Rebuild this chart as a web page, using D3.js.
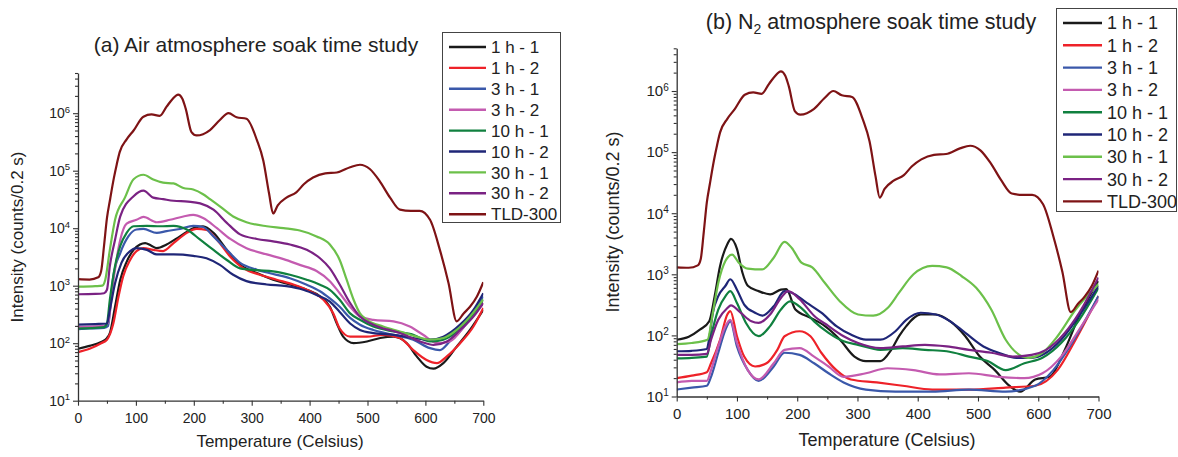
<!DOCTYPE html>
<html><head><meta charset="utf-8">
<script src="https://cdn.jsdelivr.net/npm/d3@7"></script>
<style>body{margin:0;background:#fff}svg{display:block;font-family:Arial,"Liberation Sans",sans-serif}</style>
</head><body><svg id="c" width="1178" height="457"></svg>
<script>
// ---------- DATA (temperature °C, intensity counts/0.2 s) ----------
const seriesNames = ["1 h - 1","1 h - 2","3 h - 1","3 h - 2","10 h - 1","10 h - 2","30 h - 1","30 h - 2","TLD-300"];
const seriesColors = ["#1a1a1a","#ee2229","#3a58aa","#c45bb0","#10803f","#1f2677","#6cc04a","#7a2283","#7e1315"];
const xTicks = [0,100,200,300,400,500,600,700];
const yTicks = [1e1,1e2,1e3,1e4,1e5,1e6];

const tld300 = [[0,1300],[20,1280],[35,1400],[40,1800],[45,5000],[50,15000],[55,30000],[62,75000],[67,130000],[72,210000],[84,350000],[96,500000],[113,870000],[127,950000],[141,900000],[153,1300000],[163,1750000],[173,2100000],[180,1800000],[186,1200000],[196,470000],[205,410000],[228,510000],[245,760000],[260,1000000],[274,850000],[291,800000],[309,340000],[320,150000],[330,40000],[337,18000],[345,25000],[360,34000],[377,42000],[390,58000],[406,76000],[427,90000],[447,93000],[470,115000],[487,127000],[504,107000],[521,66000],[539,34000],[556,21000],[575,20000],[590,20000],[608,14000],[625,4200],[640,1100],[654,240],[666,330],[677,430],[689,650],[700,1150]];

// (a) Air atmosphere
const air1h1 = [[0,80],[20,90],[40,105],[50,123],[55,150],[64,430],[73,1270],[84,2600],[96,4200],[107,5200],[116,5500],[126,5000],[136,4500],[153,5200],[176,7200],[199,10000],[216,10800],[234,8300],[257,4200],[280,2300],[309,1660],[337,1270],[366,1050],[395,850],[418,650],[435,430],[447,220],[458,130],[476,100],[499,107],[522,123],[545,130],[568,100],[585,59],[602,39],[614,36],[631,45],[654,87],[677,170],[700,380]];
const air1h2 = [[0,70],[20,80],[40,100],[50,115],[61,220],[70,650],[78,1450],[90,2800],[101,4000],[113,4500],[130,4200],[147,4000],[165,5500],[188,8300],[205,9700],[222,9300],[240,6300],[263,3200],[286,2000],[314,1550],[343,1270],[372,1050],[401,800],[424,570],[441,330],[452,180],[470,130],[499,130],[527,140],[556,123],[579,76],[602,51],[620,45],[637,59],[660,100],[683,195],[700,410]];
const air3h1 = [[0,175],[20,180],[45,185],[52,200],[56,450],[61,1450],[73,3700],[87,7200],[101,9500],[113,9700],[136,8300],[153,8900],[176,9700],[199,11000],[216,10500],[234,7200],[257,4200],[280,2500],[309,1900],[337,1600],[366,1350],[395,1040],[418,800],[435,600],[452,430],[470,275],[487,210],[510,170],[545,140],[579,115],[608,82],[625,76],[642,107],[671,220],[700,650]];
const air3h2 = [[0,190],[20,195],[45,200],[52,230],[61,1200],[73,6300],[84,12000],[101,14000],[113,15700],[136,12700],[159,14000],[182,16000],[199,17000],[216,15000],[240,10000],[263,6500],[291,4500],[326,3500],[355,2900],[383,2300],[412,1800],[435,1200],[452,740],[470,430],[487,290],[510,255],[545,240],[573,195],[596,140],[620,100],[642,107],[671,220],[700,500]];
const air10h1 = [[0,180],[30,185],[45,190],[50,220],[55,570],[64,2200],[73,4900],[84,8300],[96,10800],[119,11000],[142,10800],[165,11000],[188,9500],[211,6300],[234,4200],[257,2800],[280,2000],[309,1860],[337,1780],[366,1550],[395,1270],[418,1040],[435,850],[452,570],[470,330],[487,255],[510,195],[545,160],[579,140],[608,107],[631,115],[660,180],[683,330],[700,570]];
const air10h2 = [[0,210],[30,215],[50,220],[55,380],[64,1100],[75,2500],[90,4000],[101,4500],[119,4200],[136,3500],[165,3500],[199,3300],[222,3000],[245,2300],[268,1550],[291,1200],[326,1050],[360,980],[389,850],[412,690],[435,530],[452,350],[470,220],[487,170],[510,150],[545,140],[579,123],[608,115],[631,130],[660,210],[683,380],[700,740]];
const air30h1 = [[0,960],[30,980],[42,1000],[47,1260],[55,4200],[64,14000],[81,34000],[96,71000],[113,85000],[130,70000],[147,62000],[165,60000],[182,50000],[199,47000],[216,39000],[228,32000],[245,24000],[268,16000],[291,12700],[326,10800],[355,10000],[383,9100],[412,7200],[435,5200],[452,2800],[464,1270],[476,570],[487,330],[499,255],[527,195],[556,160],[585,130],[608,115],[631,123],[654,170],[677,290],[700,580]];
const air30h2 = [[0,710],[30,720],[45,740],[50,850],[55,2200],[64,6300],[73,16000],[96,36000],[113,45000],[130,34000],[147,32000],[165,30000],[190,29000],[211,27000],[234,21000],[257,12400],[280,7800],[309,6500],[337,5900],[366,5200],[395,4200],[418,3000],[435,2000],[452,1050],[470,500],[487,290],[510,210],[556,150],[591,107],[614,93],[637,107],[660,170],[683,290],[700,500]];

// (b) N2 atmosphere
const n21h1 = [[0,85],[20,95],[39,125],[54,170],[63,440],[72,1370],[84,3100],[90,3800],[100,2600],[109,1070],[118,650],[136,530],[155,470],[173,560],[182,570],[197,265],[222,195],[246,142],[271,85],[295,45],[314,38],[338,38],[356,58],[369,97],[381,142],[405,220],[430,220],[454,170],[479,97],[503,45],[528,27],[552,15],[570,12],[595,19],[619,21],[644,58],[668,210],[700,780]];
const n21h2 = [[0,20],[25,22],[50,25],[57,35],[72,85],[84,220],[89,250],[100,97],[112,45],[130,31],[149,35],[167,58],[179,97],[204,117],[222,97],[240,52],[265,27],[289,19],[332,17],[375,15],[424,13],[485,13],[546,14],[595,15],[632,27],[662,85],[700,440]];
const n23h1 = [[0,13],[25,14],[50,15],[57,21],[69,52],[81,125],[89,170],[100,66],[118,27],[136,18],[161,31],[179,52],[204,48],[228,35],[252,24],[277,17],[314,13],[363,12],[424,12],[485,13],[546,12],[595,15],[625,27],[656,75],[700,440]];
const n23h2 = [[0,17],[25,18],[50,18],[57,27],[69,66],[81,142],[89,180],[100,75],[118,27],[136,19],[161,35],[179,58],[204,62],[228,45],[252,31],[277,21],[314,24],[350,29],[393,27],[436,23],[485,24],[534,21],[577,20],[607,24],[638,45],[668,125],[700,390]];
const n210h1 = [[0,42],[25,43],[50,45],[57,97],[69,265],[81,440],[89,530],[100,340],[115,160],[136,97],[155,142],[173,265],[188,360],[207,280],[228,170],[252,110],[277,80],[301,70],[338,58],[375,62],[412,58],[448,55],[485,45],[516,38],[546,27],[577,35],[607,43],[638,75],[668,180],[700,600]];
const n210h2 = [[0,55],[25,56],[50,60],[54,90],[60,235],[69,440],[81,650],[89,830],[100,560],[112,320],[130,235],[142,210],[161,300],[179,530],[191,500],[216,340],[240,235],[265,142],[289,103],[314,85],[338,85],[363,117],[381,180],[405,235],[430,220],[454,170],[479,110],[509,66],[534,52],[564,43],[589,43],[613,52],[638,85],[668,210],[700,650]];
const n230h1 = [[0,72],[25,75],[51,85],[60,235],[69,720],[81,1660],[92,2100],[103,1550],[118,1240],[142,1200],[161,1870],[179,3400],[191,2700],[207,1550],[225,1300],[246,720],[271,360],[301,220],[326,210],[350,280],[369,500],[393,1000],[424,1370],[448,1300],[473,930],[497,600],[522,265],[546,85],[564,52],[583,43],[607,52],[632,97],[662,265],[700,690]];
const n230h2 = [[0,48],[25,48],[50,50],[57,85],[69,180],[84,280],[90,310],[106,235],[124,170],[136,160],[155,220],[173,410],[185,530],[204,390],[228,210],[252,142],[277,97],[301,75],[338,62],[375,66],[412,70],[448,66],[485,58],[522,52],[558,45],[589,48],[613,58],[644,110],[668,235],[700,890]];

// ---------- DRAW ----------
const svg = d3.select("#c");
const defs = svg.append("defs");

function panel(cfg, data, id){
  const x = d3.scaleLinear().domain([0,700]).range([cfg.x0,cfg.x1]);
  const y = d3.scaleLog().domain([10,5e6]).range([cfg.yb,cfg.yt]);
  const g = svg.append("g");
  defs.append("clipPath").attr("id","clip"+id).append("rect")
    .attr("x",cfg.x0).attr("y",cfg.yt).attr("width",cfg.x1-cfg.x0).attr("height",cfg.yb-cfg.yt);

  const line = d3.line().x(d=>x(d[0])).y(d=>y(Math.max(d[1],5))).curve(d3.curveMonotoneX);
  const lg = g.append("g").attr("clip-path","url(#clip"+id+")");
  data.forEach((s,i)=>{
    lg.append("path").attr("d",line(s)).attr("fill","none")
      .attr("stroke",seriesColors[i]).attr("stroke-width",cfg.sw).attr("stroke-linejoin","round");
  });

  // minor ticks
  const yMinor = [];
  for(let e=1;e<=6;e++) for(let k=2;k<=9;k++){ const v=k*Math.pow(10,e); if(v<=5e6) yMinor.push(v); }
  const xMinor = d3.range(50,700,100);
  g.append("g").attr("transform",`translate(0,${cfg.yb})`)
    .call(d3.axisBottom(x).tickValues(xMinor).tickSize(3).tickSizeOuter(0).tickFormat(""))
    .call(a=>a.select(".domain").remove());
  g.append("g").attr("transform",`translate(${cfg.x0},0)`)
    .call(d3.axisLeft(y).tickValues(yMinor).tickSize(3).tickSizeOuter(0).tickFormat(""))
    .call(a=>a.select(".domain").remove());

  // major axes
  const xa = g.append("g").attr("transform",`translate(0,${cfg.yb})`)
    .call(d3.axisBottom(x).tickValues(xTicks).tickSize(5).tickSizeOuter(0).tickPadding(7).tickFormat(d3.format("d")));
  xa.selectAll("text").attr("font-size",cfg.tick).attr("fill","#222").attr("font-family","Arial,'Liberation Sans',sans-serif");
  const ya = g.append("g").attr("transform",`translate(${cfg.x0},0)`)
    .call(d3.axisLeft(y).tickValues(yTicks).tickSize(5).tickSizeOuter(0).tickPadding(3));
  ya.selectAll("text").attr("font-size",cfg.tick).attr("fill","#222").attr("font-family","Arial,'Liberation Sans',sans-serif")
    .each(function(d){
      const t = d3.select(this); const e = Math.round(Math.log10(d));
      t.text("10");
      t.append("tspan").attr("dy","-0.55em").attr("font-size",cfg.sup).text(e);
    });
  svg.selectAll(".tick line").attr("stroke","#333");
  [xa,ya].forEach(a=>a.select(".domain").attr("stroke","#333").attr("stroke-width",1.3));
  g.selectAll(".tick line").attr("stroke-width",1.1);

  // axis titles
  g.append("text").attr("x",cfg.xtx).attr("y",cfg.xty).attr("text-anchor","middle")
    .attr("font-size",cfg.axt).attr("fill","#222").text("Temperature (Celsius)");
  g.append("text").attr("transform",`translate(${cfg.ytx},${cfg.yty}) rotate(-90)`).attr("dy","0.35em")
    .attr("text-anchor","middle").attr("font-size",cfg.axt).attr("fill","#222").text("Intensity (counts/0.2 s)");

  // title
  const tt = g.append("text").attr("x",cfg.tx).attr("y",cfg.ty).attr("text-anchor","middle")
    .attr("font-size",cfg.tfs).attr("fill","#222");
  cfg.title(tt);

  // legend
  const L = cfg.leg;
  g.append("rect").attr("x",L.x).attr("y",L.y).attr("width",L.w).attr("height",L.h)
    .attr("fill","#fff").attr("stroke","#444").attr("stroke-width",1);
  seriesNames.forEach((n,i)=>{
    const yy = L.r0 + i*L.dy;
    g.append("line").attr("x1",L.l0).attr("x2",L.l1).attr("y1",yy).attr("y2",yy)
      .attr("stroke",seriesColors[i]).attr("stroke-width",2.4);
    g.append("text").attr("x",L.tx).attr("y",yy).attr("dy","0.36em").attr("font-size",L.fs)
      .attr("fill","#222").text(n);
  });
}

panel({x0:78,x1:483.3,yb:400.7,yt:73,sw:2.2,tick:14,sup:9.5,axt:17,xtx:280,xty:447,ytx:17.5,yty:237,
  tx:256,ty:52,tfs:21,title:t=>t.text("(a) Air atmosphere soak time study"),
  leg:{x:442.5,y:32.5,w:118,h:190,r0:47,dy:20.9,l0:449,l1:486,tx:491,fs:17}},
  [air1h1,air1h2,air3h1,air3h2,air10h1,air10h2,air30h1,air30h2,tld300],"a");

panel({x0:676.7,x1:1098.5,yb:396.5,yt:48.3,sw:2.2,tick:15,sup:10,axt:18,xtx:887,xty:446,ytx:613,yty:222,
  tx:871,ty:29,tfs:21.5,title:t=>{t.append("tspan").text("(b) N");
    t.append("tspan").attr("dy","5").attr("font-size",14).text("2");
    t.append("tspan").attr("dy","-5").text(" atmosphere soak time study");},
  leg:{x:1056.5,y:8.5,w:120,h:203,r0:23,dy:22.3,l0:1063,l1:1102,tx:1107,fs:18}},
  [n21h1,n21h2,n23h1,n23h2,n210h1,n210h2,n230h1,n230h2,tld300],"b");
</script></body></html>
